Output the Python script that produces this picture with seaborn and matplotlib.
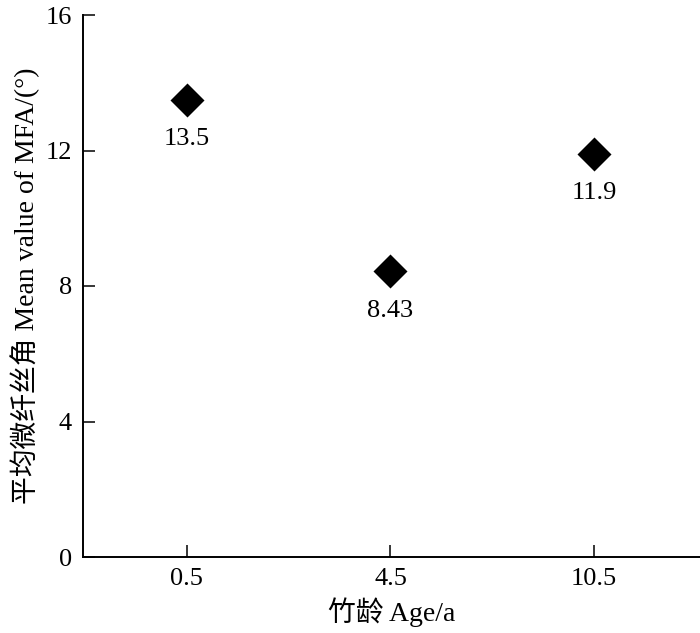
import matplotlib
matplotlib.use("Agg")
import matplotlib.pyplot as plt
import seaborn as sns
import pandas as pd

ages = ["0.5", "4.5", "10.5"]
mfa = [13.5, 8.43, 11.9]
labels = ["13.5", "8.43", "11.9"]
yticks = [0, 4, 8, 12, 16]

sns.set_theme(style="white")
plt.rcParams['font.family'] = ['Liberation Serif', 'Noto Sans CJK SC']
plt.rcParams['axes.unicode_minus'] = False

df = pd.DataFrame({"age": ages, "mfa": mfa})

fig = plt.figure(figsize=(7, 6.33), dpi=100)
ax = fig.add_axes([83/700, 1-557/633, 1-83/700, (557-15)/633])

sns.scatterplot(data=df, x="age", y="mfa", marker="D", s=300, color="black",
                edgecolor="black", linewidth=0, ax=ax, zorder=3, clip_on=False)

for xi, (v, lab) in enumerate(zip(mfa, labels)):
    ax.annotate(lab, (xi, v), xytext=(0, -28.5), textcoords="offset points",
                ha="center", va="center", fontsize=19, color="black")

ax.set_xlim(-0.51, 2.52)
ax.set_ylim(0, 16)
ax.set_yticks(yticks)
ax.set_yticklabels([str(t) for t in yticks])

ax.spines['top'].set_visible(False)
ax.spines['right'].set_visible(False)
for s in ['left', 'bottom']:
    ax.spines[s].set_linewidth(1.4)
    ax.spines[s].set_color('black')

ax.tick_params(axis='both', direction='in', length=8.5, width=1.1, colors='black',
               labelsize=19, pad=8, left=True, bottom=True)

ax.set_xlabel("竹龄 Age/a", fontsize=20, color="black", labelpad=5)
ax.set_ylabel("平均微纤丝角 Mean value of MFA/(°)", fontsize=20, color="black", labelpad=4)

fig.savefig("out.png", dpi=100)
